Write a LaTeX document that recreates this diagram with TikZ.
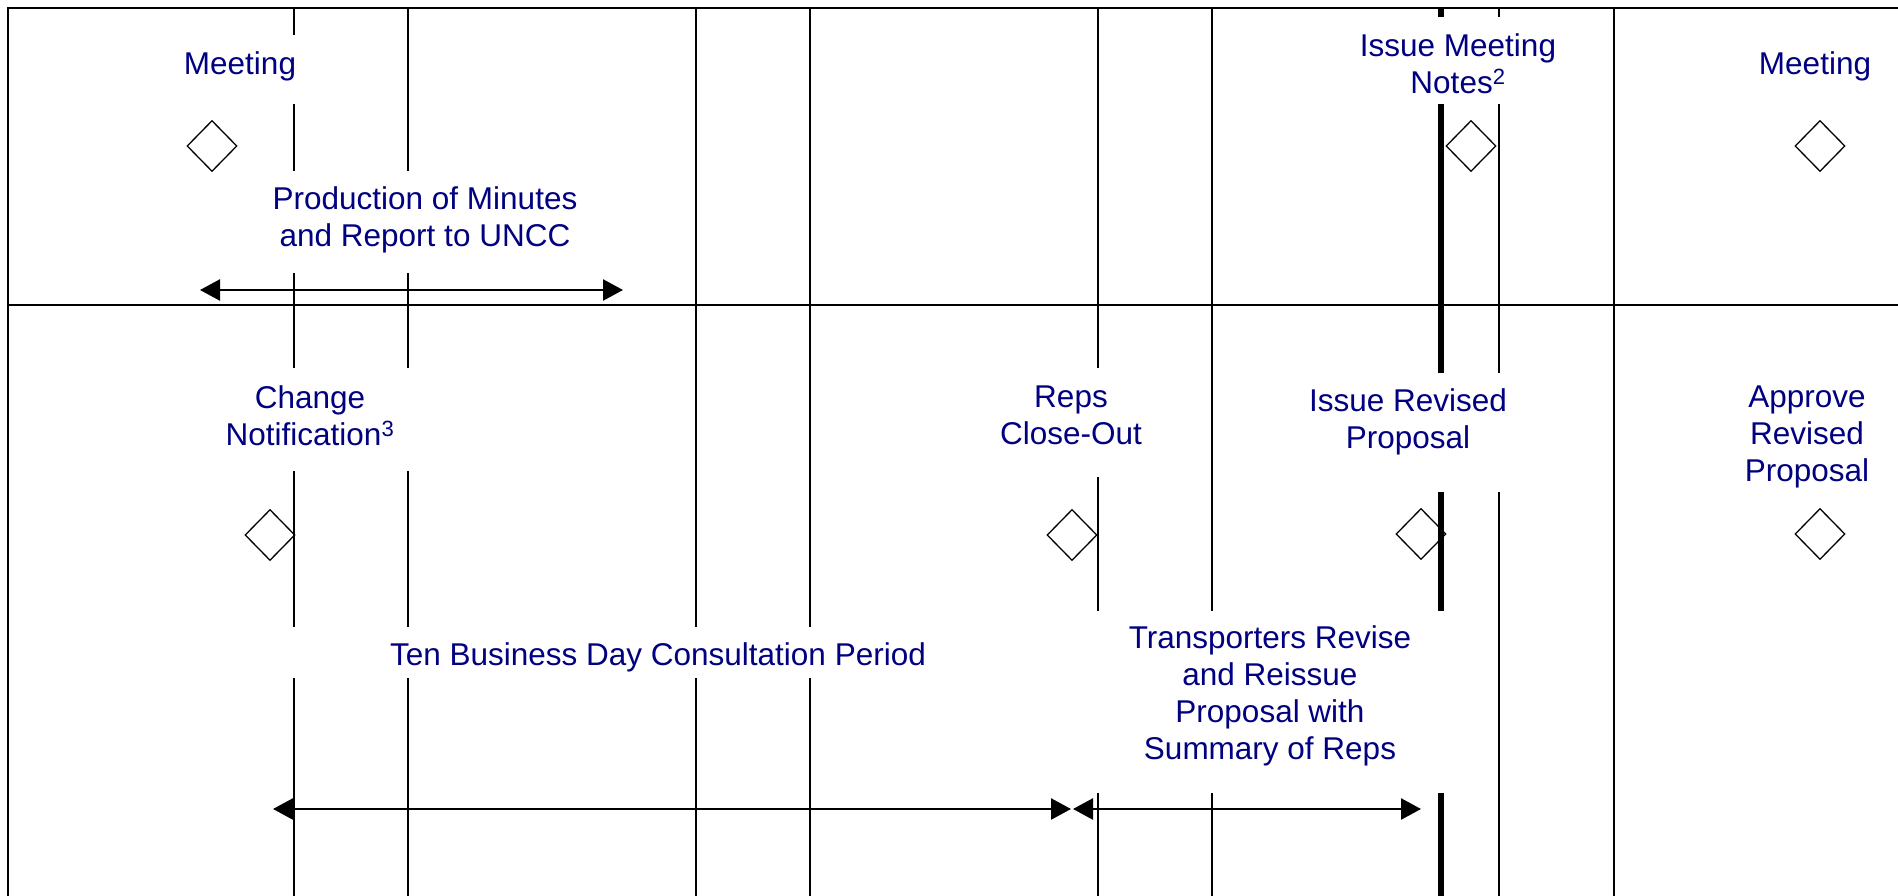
\documentclass[tikz,border=0pt]{standalone}
\usepackage{fontspec}
\setmainfont{Liberation Sans}
\usetikzlibrary{arrows.meta,shapes.geometric}
\definecolor{navytext}{RGB}{0,0,128}
\begin{document}
\begin{tikzpicture}[x=1pt,y=-1pt,
  lbl/.style={font=\fontsize{31.5}{37}\selectfont, text=navytext, align=center, inner sep=0pt},
  ms/.style={draw, diamond, aspect=1, minimum width=50pt, minimum height=51pt, inner sep=0pt, line width=1.3pt},
  gridline/.style={line width=1.8pt},
  thickline/.style={line width=6pt},
  frameline/.style={line width=2.6pt},
  span/.style={line width=2.5pt, {Triangle[length=20pt,width=21pt]}-{Triangle[length=20pt,width=21pt]}}
]
\useasboundingbox (0,0) rectangle (1898,896);
% frame and row divider
\draw[frameline] (1898,8) -- (8,8) -- (8,896);
\draw[frameline] (8,305) -- (1898,305);
% vertical time lines (with gaps where labels sit)
\foreach \x/\a/\b in {294/8/35, 294/104/171, 294/273/368, 294/471/627, 294/678/896,
                      408/8/171, 408/273/368, 408/471/627, 408/678/896,
                      696/8/627, 696/678/896,
                      810/8/627, 810/678/896,
                      1098/8/368, 1098/477/611, 1098/793/896,
                      1212/8/611, 1212/793/896,
                      1499/8/17, 1499/104/373, 1499/492/896,
                      1614/8/896}
  \draw[gridline] (\x,\a) -- (\x,\b);
\foreach \a/\b in {8/17, 104/373, 492/611, 793/896}
  \draw[thickline] (1441,\a) -- (1441,\b);
% top row
\node[lbl, anchor=base] (meet1) at (240,75) {Meeting};
\node[ms] (d1) at (212,146) {};
\node[lbl] (prod) at (425,220) {Production of Minutes\\and Report to UNCC};
\coordinate (p1) at (200,290);
\coordinate (p2) at (623,290);
\draw[span] (p1) -- (p2);
\node[lbl] (notes) at (1458,64) {Issue Meeting\\Notes\textsuperscript{2}};
\node[ms] (d2) at (1471,146) {};
\node[lbl, anchor=base] (meet2) at (1815,75) {Meeting};
\node[ms] (d3) at (1820,146) {};
% bottom row
\node[lbl] (chg) at (310,415.5) {Change\\Notification\textsuperscript{3}};
\node[ms] (d4) at (270,535) {};
\node[lbl] (reps) at (1071,415.5) {Reps\\Close-Out};
\node[ms] (d5) at (1072,535) {};
\node[lbl] (irp) at (1408,422) {Issue Revised\\Proposal};
\node[ms] (d6) at (1421,534) {};
\node[lbl] (arp) at (1807,436.5) {Approve\\Revised\\Proposal};
\node[ms] (d7) at (1820,534) {};
\node[lbl, anchor=base] (ten) at (658,665) {Ten Business Day Consultation Period};
\node[lbl] (trp) at (1270,696) {Transporters Revise\\and Reissue\\Proposal with\\Summary of Reps};
\coordinate (c1) at (273,809);
\coordinate (c2) at (1071,809);
\coordinate (c3) at (1073,809);
\coordinate (c4) at (1421,809);
\draw[span] (c1) -- (c2);
\draw[span] (c3) -- (c4);
\end{tikzpicture}
\end{document}
